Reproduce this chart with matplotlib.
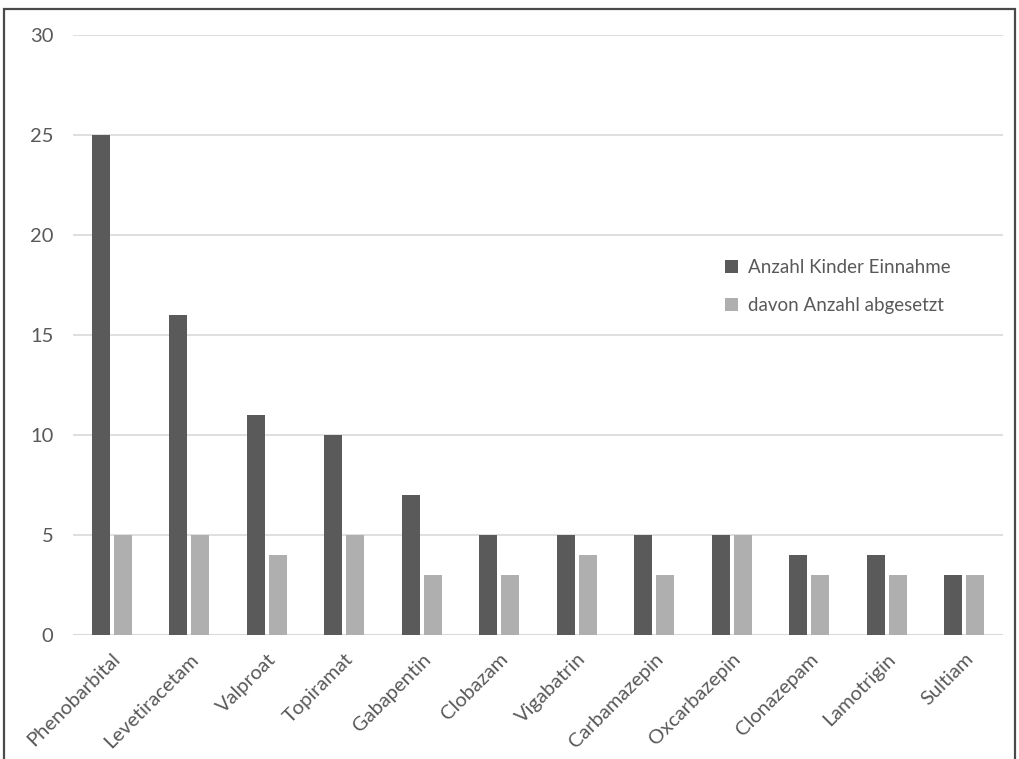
import matplotlib
matplotlib.use("Agg")
import matplotlib.pyplot as plt
import numpy as np
from matplotlib.patches import Rectangle

categories = ["Phenobarbital", "Levetiracetam", "Valproat", "Topiramat", "Gabapentin",
              "Clobazam", "Vigabatrin", "Carbamazepin", "Oxcarbazepin", "Clonazepam",
              "Lamotrigin", "Sultiam"]
einnahme = [25, 16, 11, 10, 7, 5, 5, 5, 5, 4, 4, 3]
abgesetzt = [5, 5, 4, 5, 3, 3, 4, 3, 5, 3, 3, 3]
series_names = ["Anzahl Kinder Einnahme", "davon Anzahl abgesetzt"]

plt.rcParams['font.family'] = ['Lato', 'DejaVu Sans']
txt = '#595959'
dark = '#5a5a5a'
light = '#afafaf'

fig = plt.figure(figsize=(10.2, 7.59), dpi=100)
ax = fig.add_axes([73/1020, 1-635/759, (1003-73)/1020, 600/759])

x = np.arange(len(categories))
w = 0.232
gap = 0.026
ax.bar(x - w/2 - gap, einnahme, width=w, color=dark, label=series_names[0], zorder=3)
ax.bar(x + w/2 + gap, abgesetzt, width=w, color=light, label=series_names[1], zorder=3)

ax.set_xlim(-0.5, len(categories) - 0.5)
ax.set_ylim(0, 30)
ax.set_yticks([0, 5, 10, 15, 20, 25, 30])
ax.yaxis.grid(True, color='#d9d9d9', linewidth=1.2, zorder=0)
for s in ax.spines.values():
    s.set_visible(False)
ax.axhline(0, color='#d9d9d9', linewidth=1.5, zorder=2)
ax.tick_params(axis='both', length=0, colors=txt, labelsize=14.5)
ax.tick_params(axis='y', pad=14)
ax.set_xticks(x)
ax.set_xticklabels(categories, rotation=45, ha='right', rotation_mode='anchor')
ax.tick_params(axis='x', pad=11)

leg = ax.legend(loc='upper left', bbox_to_anchor=(0.683, 0.655), frameon=False,
                fontsize=13.5, labelcolor=txt, handlelength=0.7, handleheight=0.7,
                labelspacing=1.15, handletextpad=0.5)

fig.patches.append(Rectangle((4/1020, -0.02), (1015-4)/1020, 1.02 - 9/759,
                             transform=fig.transFigure,
                             fill=False, edgecolor='#4a4a4a', linewidth=1.6))

fig.savefig("out.png", dpi=100)
